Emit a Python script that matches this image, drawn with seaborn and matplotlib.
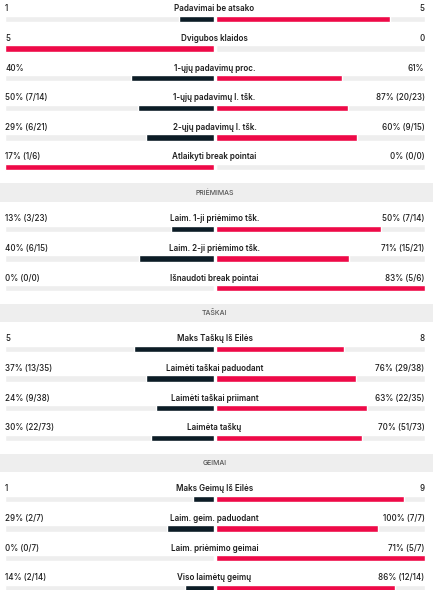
import matplotlib.pyplot as plt
import pandas as pd
import seaborn as sns

# Match stats (left player vs right player)
section_names = ['', 'PRIĖMIMAS', 'TAŠKAI', 'GEIMAI']
stat_names = ['Padavimai be atsako', 'Dvigubos klaidos', '1-ųjų padavimų proc.',
              '1-ųjų padavimų l. tšk.', '2-ųjų padavimų l. tšk.', 'Atlaikyti break pointai',
              'Laim. 1-ji priėmimo tšk.', 'Laim. 2-ji priėmimo tšk.', 'Išnaudoti break pointai',
              'Maks Taškų Iš Eilės', 'Laimėti taškai paduodant', 'Laimėti taškai priimant',
              'Laimėta taškų', 'Maks Geimų Iš Eilės', 'Laim. geim. paduodant',
              'Laim. priėmimo geimai', 'Viso laimėtų geimų']
row_section = [0, 0, 0, 0, 0, 0, 1, 1, 1, 2, 2, 2, 2, 3, 3, 3, 3]
left_vals = [1, 5, 40, 50, 29, 17, 13, 40, 0, 5, 37, 24, 30, 1, 29, 0, 14]
right_vals = [5, 0, 61, 87, 60, 0, 50, 71, 83, 8, 76, 63, 70, 9, 100, 71, 86]
left_labels = ['1', '5', '40%', '50% (7/14)', '29% (6/21)', '17% (1/6)',
               '13% (3/23)', '40% (6/15)', '0% (0/0)',
               '5', '37% (13/35)', '24% (9/38)', '30% (22/73)',
               '1', '29% (2/7)', '0% (0/7)', '14% (2/14)']
right_labels = ['5', '0', '61%', '87% (20/23)', '60% (9/15)', '0% (0/0)',
                '50% (7/14)', '71% (15/21)', '83% (5/6)',
                '8', '76% (29/38)', '63% (22/35)', '70% (51/73)',
                '9', '100% (7/7)', '71% (5/7)', '86% (12/14)']

RED = '#ee0a48'
DARK = '#0c1c26'
TRACK = '#eeeeee'
TXT = '#1e1e1e'

df = pd.DataFrame({'stat': stat_names, 'section': row_section,
                   'left': left_vals, 'right': right_vals,
                   'llab': left_labels, 'rlab': right_labels})
total = df['left'] + df['right']
df['lfrac'] = df['left'] / total
df['rfrac'] = df['right'] / total
df['lcol'] = ['win' if l > r else 'lose' for l, r in zip(df['left'], df['right'])]
df['rcol'] = ['win' if r > l else 'lose' for l, r in zip(df['left'], df['right'])]
df['track'] = 1.0

sns.set_theme(style='white')
plt.rcParams['font.family'] = ['Inter', 'DejaVu Sans']

W, H = 433, 590
fig = plt.figure(figsize=(W / 100, H / 100), dpi=100)

# layout in pixels
row_step = 29.6
first_bar = [19, 229, 349, 499]
bands = [None, (183, 202), (304, 322), (454, 472)]
pal = {'win': RED, 'lose': DARK}

for s in range(4):
    sub = df[df['section'] == s].reset_index(drop=True)
    n = len(sub)
    top = first_bar[s] - row_step / 2
    h = n * row_step
    y0 = 1 - (top + h) / H
    axl = fig.add_axes([5 / W, y0, 209 / W, h / H])
    axr = fig.add_axes([216 / W, y0, 208.5 / W, h / H])
    for ax, col, hue in [(axl, 'lfrac', 'lcol'), (axr, 'rfrac', 'rcol')]:
        sns.barplot(data=sub, x='track', y='stat', order=sub['stat'], color=TRACK,
                    width=0.21, saturation=1, errorbar=None, ax=ax)
        sns.barplot(data=sub, x=col, y='stat', order=sub['stat'], hue=hue, palette=pal,
                    dodge=False, legend=False, width=0.21, saturation=1, errorbar=None, ax=ax)
        ax.set_ylim(n - 0.5, -0.5)
        ax.set_xlabel('')
        ax.set_ylabel('')
        ax.set_xticks([])
        ax.set_yticks([])
        ax.patch.set_alpha(0)
        sns.despine(ax=ax, left=True, bottom=True)
    axl.set_xlim(1, 0)
    axr.set_xlim(0, 1)
    for i, r in sub.iterrows():
        yy = i - 0.34
        axl.text(1, yy, r['llab'], ha='left', va='center', fontsize=5.8, color=TXT,
                 fontweight='medium')
        axr.text(1, yy, r['rlab'], ha='right', va='center', fontsize=5.8, color=TXT,
                 fontweight='medium')
        axr.text(-0.007, yy, r['stat'], ha='center', va='center', fontsize=5.8,
                 color=TXT, fontweight='semibold')
    if bands[s] is not None:
        t, b = bands[s]
        hax = fig.add_axes([0, 1 - b / H, 1, (b - t) / H])
        hax.set_facecolor(TRACK)
        hax.set_xticks([])
        hax.set_yticks([])
        sns.despine(ax=hax, left=True, bottom=True)
        hax.text(0.495, 0.5, section_names[s], ha='center', va='center',
                 fontsize=5, color='#555555', fontweight='medium')

fig.savefig('out.png', dpi=100)
